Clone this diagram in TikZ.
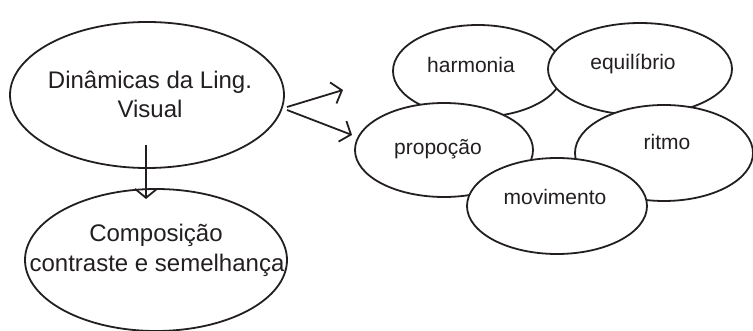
\documentclass[tikz,border=0pt]{standalone}
\usepackage{fontspec}
\setmainfont{Liberation Sans}
\usetikzlibrary{shapes.geometric,arrows.meta}
\definecolor{ink}{RGB}{35,31,32}
\tikzset{
        oval/.style = {ellipse, draw = ink, fill = white, line width = 1.8pt, inner sep = 0pt},
        lbl/.style = {anchor = base, inner sep = 0pt, text = ink, font = \fontsize{21}{25}\selectfont},
        big/.style = {lbl, font = \fontsize{24}{29}\selectfont},
        seta/.style = {draw = ink, line width = 1.8pt, -{Straight Barb[length=9pt, width=22pt]}}
}
\begin{document}
\begin{tikzpicture}[x = 1pt, y = -1pt]
        \useasboundingbox (0,0) rectangle (753,331);
        % left side
        \node[oval, minimum width = 274pt, minimum height = 146pt] (din) at (147,95) {};
        \node[big] (dinA) at (150,89) {Dinâmicas da Ling.};
        \node[big] (dinB) at (150,118) {Visual};
        \node[oval, minimum width = 262pt, minimum height = 142pt] (comp) at (156,260) {};
        \node[big] (compA) at (156,242) {Composição};
        \node[big] (compB) at (157,272) {contraste e semelhança};
        % right cluster
        \node[oval, minimum width = 170pt, minimum height = 92pt] (harm) at (478,71) {};
        \node[lbl] (harmT) at (471,73) {harmonia};
        \node[oval, minimum width = 184pt, minimum height = 92pt] (equi) at (640,69) {};
        \node[lbl] (equiT) at (633,70) {equilíbrio};
        \node[oval, minimum width = 178pt, minimum height = 94pt] (prop) at (444,150) {};
        \node[lbl] (propT) at (438,155) {propoção};
        \node[oval, minimum width = 178pt, minimum height = 96pt] (ritmo) at (664,153) {};
        \node[lbl] (ritmoT) at (667,150) {ritmo};
        \node[oval, minimum width = 180pt, minimum height = 96pt] (mov) at (557,206) {};
        \node[lbl] (movT) at (555,205) {movimento};
        % arrows
        \coordinate (down1) at (146,145);
        \coordinate (down2) at (146,199);
        \coordinate (up1) at (287,107);
        \coordinate (up2) at (343,90);
        \coordinate (low1) at (287,110);
        \coordinate (low2) at (352,135);
        \draw[seta] (down1) -- (down2);
        \draw[seta] (up1) -- (up2);
        \draw[seta] (low1) -- (low2);
\end{tikzpicture}
\end{document}
